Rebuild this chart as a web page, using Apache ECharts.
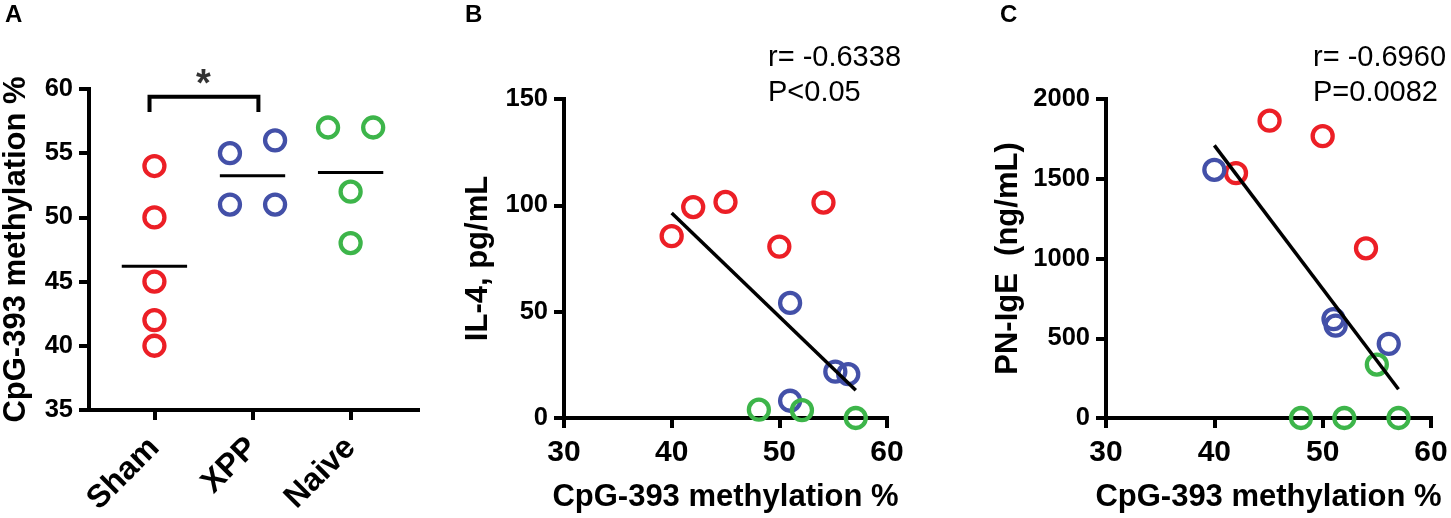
<!DOCTYPE html>
<html><head><meta charset="utf-8">
<script src="https://cdn.jsdelivr.net/npm/echarts@6/dist/echarts.min.js"></script>
<style>html,body{margin:0;padding:0;background:#fff}#c{width:1451px;height:518px}</style>
</head><body><div id="c"></div>
<script>
// ---- Panel A data ----
const groups = ['Sham', 'XPP', 'Naive'];
const shamVals = [54, 50, 45, 42, 40];
const xppVals = [55, 56, 51, 51];
const naiveVals = [57, 57, 52, 48];
const shamJitter = [0, 0, 0, 0, 0];
const xppJitter = [-0.23, 0.23, -0.23, 0.23];
const naiveJitter = [-0.23, 0.23, 0, 0];
const bracketA = [[-0.05, 58.2], [-0.05, 59.4], [1.06, 59.4], [1.06, 58.2]];
const starA = [[0.5, 60.25]];

// ---- Panel B data (x = CpG-393 methylation %, y = IL-4 pg/mL) ----
const bSham = [[40, 85.5], [42, 99.2], [45, 101.6], [50, 80.6], [54.1, 101.3]];
const bXpp = [[51, 54.1], [51, 8.1], [55.2, 21.8], [56.4, 20.6]];
const bNaive = [[48.1, 3.9], [52.1, 3.7], [57.1, 0]];
const bFit = [[40, 96.4], [57.1, 13.1]];
const bStats = 'r= -0.6338\nP<0.05';

// ---- Panel C data (x = CpG-393 methylation %, y = PN-IgE ng/mL) ----
const cSham = [[42, 1535], [45.1, 1864], [50, 1767], [54, 1064]];
const cXpp = [[40, 1556], [51, 620], [51.2, 579], [56.1, 465]];
const cNaive = [[48, 0], [52, 0], [55, 335], [57, 0]];
const cFit = [[40, 1709], [57, 180]];
const cStats = 'r= -0.6960\nP=0.0082';

const RED = '#EC1F26', BLUE = '#4350A8', GREEN = '#3DB54A';
const FONT = '"Liberation Sans", Arial, Helvetica, sans-serif';

const axisLine = { onZero: false, lineStyle: { color: '#000', width: 4, cap: 'square' } };
const axisTick = { length: 10, lineStyle: { color: '#000', width: 4 } };
const yLabel = { color: '#000', fontFamily: FONT, fontSize: 25.5, fontWeight: 'bold', margin: 16, formatter: v => String(v) };
const xLabel = { color: '#000', fontFamily: FONT, fontSize: 30, fontWeight: 'bold', margin: 20, formatter: v => String(v) };
const nameStyle = { color: '#000', fontFamily: FONT, fontSize: 31, fontWeight: 'bold' };

function ring(color) {
  return { color: 'rgba(0,0,0,0)', borderColor: color, borderWidth: 4.3, opacity: 1 };
}
function jitterPts(vals, jit, idx) {
  return vals.map((v, k) => [idx + jit[k], v]);
}
function mean(a) { return a.reduce((s, v) => s + v, 0) / a.length; }

const chart = echarts.init(document.getElementById('c'), null, { renderer: 'canvas' });

const series = [];
// Panel A points + mean lines
[[shamVals, shamJitter, RED], [xppVals, xppJitter, BLUE], [naiveVals, naiveJitter, GREEN]].forEach((g, i) => {
  series.push({
    type: 'scatter', xAxisIndex: 0, yAxisIndex: 0, symbol: 'circle', symbolSize: 20,
    itemStyle: ring(g[2]), data: jitterPts(g[0], g[1], i), silent: true
  });
  const m = mean(g[0]);
  series.push({
    type: 'line', xAxisIndex: 0, yAxisIndex: 0, symbol: 'none',
    lineStyle: { color: '#000', width: 3 }, data: [[i - 0.333, m], [i + 0.333, m]], silent: true
  });
});
series.push({
  type: 'line', xAxisIndex: 0, yAxisIndex: 0, symbol: 'none', clip: false,
  lineStyle: { color: '#000', width: 4, join: 'miter' }, data: bracketA, silent: true
});
series.push({
  type: 'scatter', xAxisIndex: 0, yAxisIndex: 0, symbolSize: 0, clip: false, data: starA, silent: true,
  label: { show: true, position: 'inside', formatter: '*', color: '#000', fontFamily: FONT, fontSize: 38, fontWeight: 'bold' }
});

// Panels B, C
function panel(ax, sets, fit) {
  sets.forEach(s => series.push({
    type: 'scatter', xAxisIndex: ax, yAxisIndex: ax, symbol: 'circle', symbolSize: 20,
    itemStyle: ring(s[1]), data: s[0], clip: false, silent: true
  }));
  series.push({
    type: 'line', xAxisIndex: ax, yAxisIndex: ax, symbol: 'none', z: 5,
    lineStyle: { color: '#000', width: 3.5 }, data: fit, silent: true
  });
}
panel(1, [[bSham, RED], [bXpp, BLUE], [bNaive, GREEN]], bFit);
panel(2, [[cSham, RED], [cXpp, BLUE], [cNaive, GREEN]], cFit);

const letter = (t, l) => ({ text: t, left: l, top: 3, padding: 0,
  textStyle: { fontFamily: FONT, fontSize: 24, fontWeight: 'bold', color: '#000' } });
const stats = (t, l) => ({ text: t, left: l, top: 40, padding: 0,
  textStyle: { fontFamily: FONT, fontSize: 29, fontWeight: 'normal', color: '#000', lineHeight: 35 } });

const option = {
  animation: false,
  backgroundColor: '#fff',
  title: [letter('A', 5), letter('B', 465), letter('C', 1000), stats(bStats, 768), stats(cStats, 1313)],
  grid: [
    { left: 86, top: 89, width: 332, height: 332 },
    { left: 564, top: 99, width: 323, height: 322 },
    { left: 1106, top: 99, width: 325, height: 323 }
  ],
  xAxis: [
    { gridIndex: 0, type: 'value', min: -0.667, max: 2.687, splitLine: { show: false },
      axisLine, axisTick: Object.assign({ customValues: [0, 1, 2] }, axisTick),
      axisLabel: Object.assign({}, xLabel, { customValues: [0, 1, 2], rotate: 45, margin: 33, fontSize: 32,
        formatter: v => groups[Math.round(v)] }) },
    { gridIndex: 1, type: 'value', min: 30, max: 60, interval: 10, splitLine: { show: false },
      axisLine, axisTick, axisLabel: xLabel,
      name: 'CpG-393 methylation %', nameLocation: 'middle', nameGap: 64, nameTextStyle: nameStyle },
    { gridIndex: 2, type: 'value', min: 30, max: 60, interval: 10, splitLine: { show: false },
      axisLine, axisTick, axisLabel: xLabel,
      name: 'CpG-393 methylation %', nameLocation: 'middle', nameGap: 64, nameTextStyle: nameStyle }
  ],
  yAxis: [
    { gridIndex: 0, type: 'value', min: 35, max: 60, interval: 5, splitLine: { show: false },
      axisLine, axisTick, axisLabel: yLabel,
      name: 'CpG-393 methylation %', nameLocation: 'middle', nameRotate: 90, nameGap: 57, nameTextStyle: nameStyle },
    { gridIndex: 1, type: 'value', min: 0, max: 150, interval: 50, splitLine: { show: false },
      axisLine, axisTick, axisLabel: yLabel,
      name: 'IL-4, pg/mL', nameLocation: 'middle', nameRotate: 90, nameGap: 70, nameTextStyle: nameStyle },
    { gridIndex: 2, type: 'value', min: 0, max: 2000, interval: 500, splitLine: { show: false },
      axisLine, axisTick, axisLabel: yLabel,
      name: 'PN-IgE  (ng/mL)', nameLocation: 'middle', nameRotate: 90, nameGap: 82, nameTextStyle: nameStyle }
  ],
  series
};
chart.setOption(option);
</script></body></html>
